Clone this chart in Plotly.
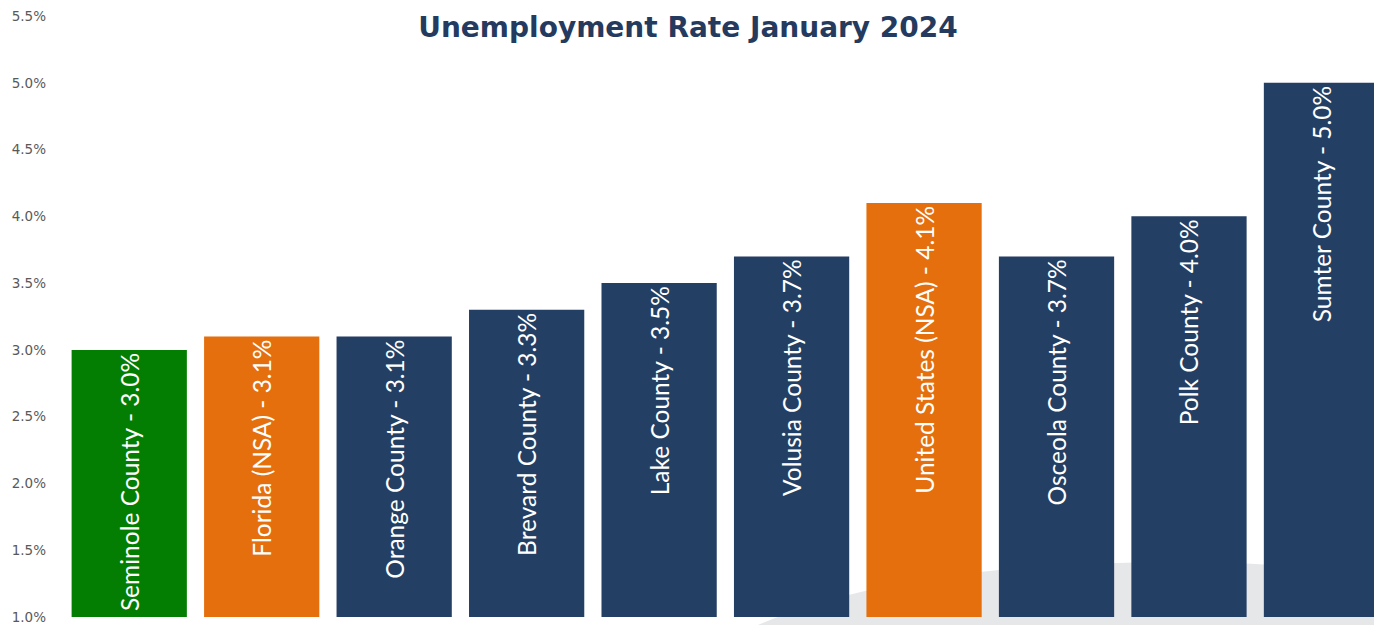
import plotly.graph_objects as go

categories = ["Seminole County", "Florida (NSA)", "Orange County", "Brevard County",
              "Lake County", "Volusia County", "United States (NSA)", "Osceola County",
              "Polk County", "Sumter County"]
rates = [3.0, 3.1, 3.1, 3.3, 3.5, 3.7, 4.1, 3.7, 4.0, 5.0]
bar_colors = ["#037E03", "#E56F0C", "#243F64", "#243F64", "#243F64", "#243F64",
              "#E56F0C", "#243F64", "#243F64", "#243F64"]
y_ticks = [1.0, 1.5, 2.0, 2.5, 3.0, 3.5, 4.0, 4.5, 5.0, 5.5]

labels = [f"{c} - {r:.1f}%" for c, r in zip(categories, rates)]

fig = go.Figure(go.Bar(
    x=list(range(len(categories))),
    y=rates,
    marker=dict(color=bar_colors, line=dict(width=0)),
    width=0.87,
    text=labels,
    textposition="inside",
    insidetextanchor="end",
    textangle=-90,
    textfont=dict(family="Lato, 'Open Sans', sans-serif", size=24.5, color="white"),
    hoverinfo="skip",
))

# faint decorative swoosh behind the bars
fig.add_shape(type="path", xref="paper", yref="paper", layer="below",
              path="M 0.52 -0.02 Q 0.62 0.08 0.80 0.09 Q 0.95 0.10 1.0 0.05 L 1.0 -0.02 Z",
              fillcolor="#E6E7E9", line=dict(width=0))

# page body has an 8px margin, so the figure is offset by 8px
fig.update_layout(
    width=1374, height=617,
    margin=dict(l=55, r=0, t=5, b=7),
    paper_bgcolor="white", plot_bgcolor="white",
    showlegend=False,
    title=dict(text="<b>Unemployment Rate January 2024</b>", x=(688 - 8) / 1374, xanchor="center",
               y=1 - 19 / 617, yanchor="middle",
               font=dict(family="'DejaVu Sans', Verdana, sans-serif", size=28, color="#243A5E")),
    xaxis=dict(range=[-0.5, 9.457], showticklabels=False, showgrid=False, zeroline=False,
               showline=False, ticks=""),
    yaxis=dict(range=[1.0, 5.5], tickvals=y_ticks, ticktext=[f"{v:.1f}%" for v in y_ticks],
               showgrid=False, zeroline=False, showline=False, ticks="",
               ticklabelstandoff=16, ticklabeloverflow="allow",
               tickfont=dict(family="'DejaVu Sans', Verdana, sans-serif", size=13.5, color="#595959")),
)

fig.write_html("out.html")
